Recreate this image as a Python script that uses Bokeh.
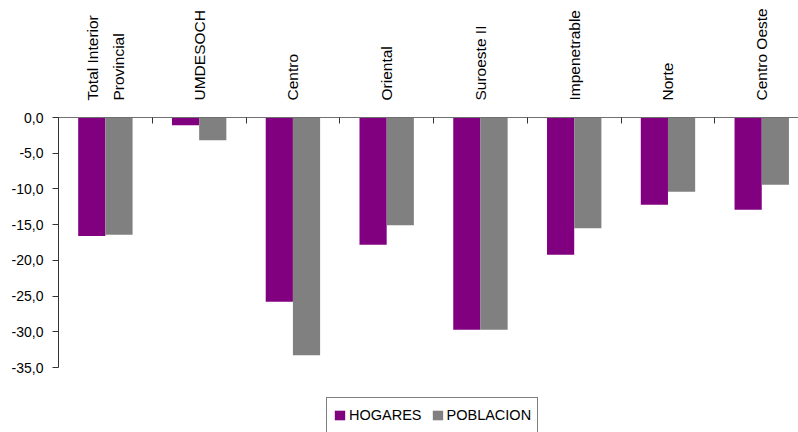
import numpy as np
from bokeh.plotting import figure
from bokeh.models import (Range1d, LinearAxis, FixedTicker, CustomJSTickFormatter,
                          Legend, LegendItem, ColumnDataSource)
from bokeh.embed import file_html
from bokeh.resources import INLINE

categories = ["Total Interior\nProvincial", "UMDESOCH", "Centro", "Oriental",
              "Suroeste II", "Impenetrable", "Norte", "Centro Oeste"]
hogares = [-16.6, -1.1, -25.8, -17.8, -29.7, -19.2, -12.2, -12.9]
poblacion = [-16.4, -3.2, -33.3, -15.1, -29.7, -15.5, -10.4, -9.4]
y_ticks = [0, -5, -10, -15, -20, -25, -30, -35]
series_names = ["HOGARES", "POBLACION"]
colors = ["#800080", "#808080"]

n = len(categories)
idx = np.arange(n)
bw = 0.29

# frame spans down to the canvas bottom; the axis itself is bounded to [-35, 0]
p = figure(width=798, height=432, output_backend="svg", toolbar_location=None,
           x_range=Range1d(0, 7.892), y_range=Range1d(-44.1, 0),
           x_axis_location=None, y_axis_location=None,
           min_border_left=58, min_border_right=0, min_border_top=117,
           min_border_bottom=0)
p.outline_line_color = None
p.xgrid.visible = False
p.ygrid.visible = False
p.background_fill_color = "white"
p.border_fill_color = "white"

src_h = ColumnDataSource(dict(x=idx + 0.5 - bw / 2, top=np.zeros(n), bottom=hogares))
src_p = ColumnDataSource(dict(x=idx + 0.5 + bw / 2, top=np.zeros(n), bottom=poblacion))
r1 = p.vbar(x="x", width=bw, top="top", bottom="bottom", source=src_h,
            fill_color=colors[0], line_color=None)
r2 = p.vbar(x="x", width=bw, top="top", bottom="bottom", source=src_p,
            fill_color=colors[1], line_color=None)

# y axis (left)
yax = LinearAxis(ticker=FixedTicker(ticks=y_ticks, minor_ticks=[]),
                 formatter=CustomJSTickFormatter(code="return tick.toFixed(1).replace('.', ',');"),
                 bounds=(-35, 0))
yax.axis_line_color = "#333333"
yax.major_tick_line_color = "#333333"
yax.major_tick_out = 6
yax.major_tick_in = 0
yax.minor_tick_line_color = None
yax.major_label_standoff = 9
yax.major_label_text_font = "Liberation Sans"
yax.major_label_text_font_size = "14px"
yax.major_label_text_color = "#000000"
p.add_layout(yax, "left")

# x axis (above) with category names
xax = LinearAxis(ticker=FixedTicker(ticks=list(idx + 0.5), minor_ticks=list(range(n + 1))))
xax.major_label_overrides = {float(i + 0.5): c for i, c in enumerate(categories)}
xax.major_label_orientation = np.pi / 2
xax.axis_line_color = "#707070"
xax.major_tick_in = 0
xax.major_tick_out = 0
xax.minor_tick_in = 6
xax.minor_tick_out = 0
xax.minor_tick_line_color = "#333333"
xax.major_label_standoff = 17
xax.major_label_text_font = "Liberation Sans"
xax.major_label_text_font_size = "15.5px"
xax.major_label_text_color = "#000000"
xax.major_label_text_line_height = 1.5
p.add_layout(xax, "above")

legend = Legend(items=[LegendItem(label=series_names[0], renderers=[r1]),
                       LegendItem(label=series_names[1], renderers=[r2])],
                orientation="horizontal", location=(268, -1),
                border_line_color="#000000", border_line_width=1,
                padding=6, spacing=9, margin=0, label_standoff=3,
                glyph_width=13, glyph_height=12, label_height=22,
                label_text_font="Liberation Sans",
                label_text_font_size="14.5px", label_text_color="#000000",
                background_fill_alpha=1.0)
p.add_layout(legend, "center")

open("out.html", "w").write(file_html(p, INLINE))
